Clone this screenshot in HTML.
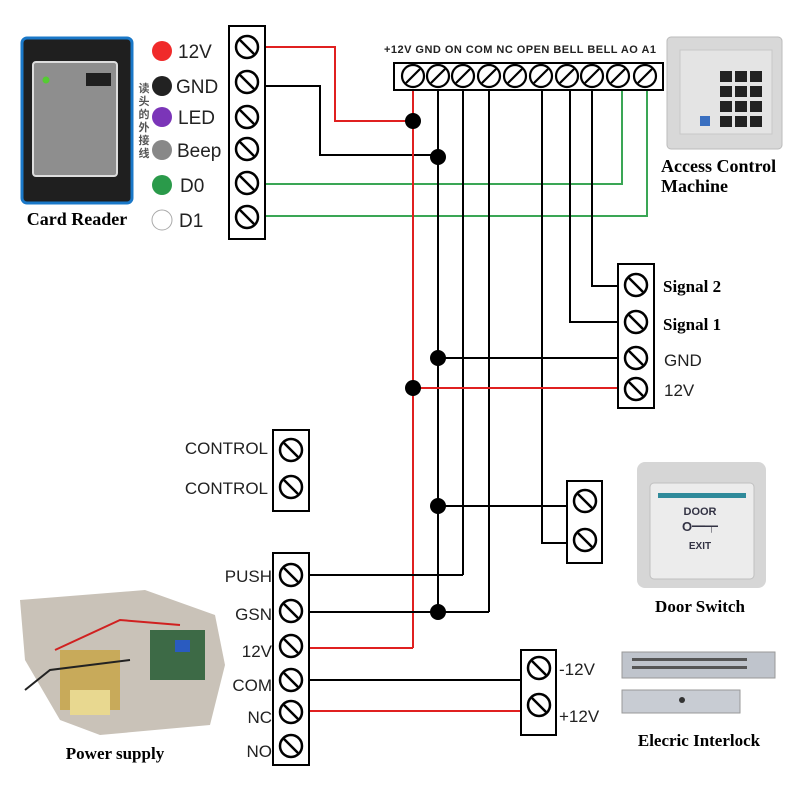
<!DOCTYPE html>
<html><head><meta charset="utf-8"><style>
html,body{margin:0;padding:0;background:#fff;}
svg{display:block;}
text{font-family:"Liberation Sans","Noto Sans CJK SC",sans-serif;}
.ser{font-family:"Liberation Serif",serif;font-weight:bold;}
</style></head><body>
<svg width="800" height="800" viewBox="0 0 800 800" xmlns="http://www.w3.org/2000/svg">
<defs>
<g id="s"><circle r="11" fill="#fff" stroke="#000" stroke-width="2.5"/><line x1="-7" y1="-7" x2="7" y2="7" stroke="#000" stroke-width="2.5"/></g>
<g id="t"><circle r="11" fill="#fff" stroke="#000" stroke-width="2.2"/><line x1="-7" y1="7" x2="7" y2="-7" stroke="#000" stroke-width="2.2"/></g>
</defs>
<rect width="800" height="800" fill="#fff"/>

<g fill="none" stroke-width="2">
<polyline points="265,47 335,47 335,121 413,121" stroke="#e02020"/>
<polyline points="265,86 320,86 320,155 438,155" stroke="#000"/>
<polyline points="265,184 622,184 622,90" stroke="#3aa655"/>
<polyline points="265,216 647,216 647,90" stroke="#3aa655"/>
<line x1="413" y1="90" x2="413" y2="648" stroke="#e02020"/>
<line x1="438" y1="90" x2="438" y2="612" stroke="#000"/>
<line x1="463" y1="90" x2="463" y2="575" stroke="#000"/>
<line x1="489" y1="90" x2="489" y2="612" stroke="#000"/>
<polyline points="542,90 542,543 567,543" stroke="#000"/>
<polyline points="570,90 570,322 618,322" stroke="#000"/>
<polyline points="592,90 592,286 618,286" stroke="#000"/>
<line x1="438" y1="358" x2="618" y2="358" stroke="#000"/>
<line x1="413" y1="388" x2="618" y2="388" stroke="#e02020"/>
<line x1="438" y1="506" x2="567" y2="506" stroke="#000"/>
<line x1="309" y1="575" x2="463" y2="575" stroke="#000"/>
<line x1="309" y1="612" x2="489" y2="612" stroke="#000"/>
<line x1="309" y1="648" x2="413" y2="648" stroke="#e02020"/>
<line x1="309" y1="680" x2="522" y2="680" stroke="#000"/>
<line x1="309" y1="711" x2="522" y2="711" stroke="#e02020"/>
</g>
<g fill="#000">
<circle cx="413" cy="121" r="8"/><circle cx="438" cy="157" r="8"/>
<circle cx="438" cy="358" r="8"/><circle cx="413" cy="388" r="8"/>
<circle cx="438" cy="506" r="8"/><circle cx="438" cy="612" r="8"/>
</g>

<rect x="229" y="26" width="36" height="213" fill="#fff" stroke="#000" stroke-width="2"/>
<use href="#s" x="247" y="47"/><use href="#s" x="247" y="82"/><use href="#s" x="247" y="117"/>
<use href="#s" x="247" y="149"/><use href="#s" x="247" y="183"/><use href="#s" x="247" y="217"/>

<rect x="394" y="63" width="269" height="27" fill="#fff" stroke="#000" stroke-width="2"/>
<g transform="translate(0,76)">
<use href="#t" x="413"/><use href="#t" x="438"/><use href="#t" x="463"/><use href="#t" x="489"/><use href="#t" x="515"/>
<use href="#t" x="541"/><use href="#t" x="567"/><use href="#t" x="592"/><use href="#t" x="618"/><use href="#t" x="645"/>
</g>
<text x="384" y="53" font-size="11" font-weight="bold" fill="#222" textLength="272">+12V GND ON COM NC OPEN BELL BELL AO A1</text>

<rect x="618" y="264" width="36" height="144" fill="#fff" stroke="#000" stroke-width="2"/>
<use href="#s" x="636" y="285"/><use href="#s" x="636" y="322"/><use href="#s" x="636" y="358"/><use href="#s" x="636" y="389"/>
<text x="663" y="292" font-size="17" class="ser">Signal 2</text>
<text x="663" y="330" font-size="17" class="ser">Signal 1</text>
<text x="664" y="366" font-size="17" fill="#222">GND</text>
<text x="664" y="396" font-size="17" fill="#222">12V</text>

<rect x="273" y="430" width="36" height="81" fill="#fff" stroke="#000" stroke-width="2"/>
<use href="#s" x="291" y="450"/><use href="#s" x="291" y="487"/>
<text x="268" y="454" font-size="17" text-anchor="end" fill="#222">CONTROL</text>
<text x="268" y="494" font-size="17" text-anchor="end" fill="#222">CONTROL</text>

<rect x="567" y="481" width="35" height="82" fill="#fff" stroke="#000" stroke-width="2"/>
<use href="#s" x="585" y="501"/><use href="#s" x="585" y="540"/>

<rect x="273" y="553" width="36" height="212" fill="#fff" stroke="#000" stroke-width="2"/>
<use href="#s" x="291" y="575"/><use href="#s" x="291" y="611"/><use href="#s" x="291" y="646"/>
<use href="#s" x="291" y="680"/><use href="#s" x="291" y="712"/><use href="#s" x="291" y="746"/>
<g font-size="17" text-anchor="end" fill="#222">
<text x="272" y="582">PUSH</text><text x="272" y="620">GSN</text><text x="272" y="657">12V</text>
<text x="272" y="691">COM</text><text x="272" y="723">NC</text><text x="272" y="757">NO</text>
</g>

<rect x="521" y="650" width="35" height="85" fill="#fff" stroke="#000" stroke-width="2"/>
<use href="#s" x="539" y="668"/><use href="#s" x="539" y="705"/>
<text x="559" y="675" font-size="17" fill="#222">-12V</text>
<text x="559" y="722" font-size="17" fill="#222">+12V</text>

<rect x="22" y="38" width="110" height="165" rx="5" fill="#1f1f1f" stroke="#1a78c8" stroke-width="3"/>
<rect x="33" y="62" width="84" height="114" rx="3" fill="#8e8e8e" stroke="#ddd" stroke-width="2"/>
<circle cx="46" cy="80" r="3.5" fill="#5c3"/>
<rect x="86" y="73" width="25" height="13" fill="#1f1f1f"/>
<text x="77" y="225" font-size="18" class="ser" text-anchor="middle">Card Reader</text>
<circle cx="162" cy="51" r="10" fill="#f02a2a"/>
<circle cx="162" cy="86" r="10" fill="#222"/>
<circle cx="162" cy="117" r="10" fill="#7b35b8"/>
<circle cx="162" cy="150" r="10" fill="#888"/>
<circle cx="162" cy="185" r="10" fill="#2a9a4a"/>
<circle cx="162" cy="220" r="10" fill="#fff" stroke="#aaa"/>
<g font-size="19" fill="#222">
<text x="178" y="58">12V</text><text x="176" y="93">GND</text><text x="178" y="124">LED</text>
<text x="177" y="157">Beep</text><text x="180" y="192">D0</text><text x="179" y="227">D1</text>
</g>
<g font-size="11" font-weight="bold" fill="#555" text-anchor="middle">
<text x="144" y="92">读</text><text x="144" y="105">头</text><text x="144" y="118">的</text>
<text x="144" y="131">外</text><text x="144" y="144">接</text><text x="144" y="157">线</text>
</g>

<rect x="667" y="37" width="115" height="112" rx="4" fill="#d8d8d8" stroke="#bbb"/>
<rect x="680" y="50" width="92" height="84" fill="#e4e4e4" stroke="#c8c8c8"/>
<g fill="#222">
<rect x="720" y="71" width="12" height="11"/><rect x="735" y="71" width="12" height="11"/><rect x="750" y="71" width="12" height="11"/>
<rect x="720" y="86" width="12" height="11"/><rect x="735" y="86" width="12" height="11"/><rect x="750" y="86" width="12" height="11"/>
<rect x="720" y="101" width="12" height="11"/><rect x="735" y="101" width="12" height="11"/><rect x="750" y="101" width="12" height="11"/>
<rect x="720" y="116" width="12" height="11"/><rect x="735" y="116" width="12" height="11"/><rect x="750" y="116" width="12" height="11"/>
</g>
<rect x="700" y="116" width="10" height="10" fill="#3a6fc0"/>
<text x="661" y="172" font-size="18" class="ser">Access Control</text>
<text x="661" y="192" font-size="18" class="ser">Machine</text>

<rect x="637" y="462" width="129" height="126" rx="8" fill="#d6d6d6"/>
<rect x="650" y="483" width="104" height="96" rx="4" fill="#ececec" stroke="#c0c0c0"/>
<rect x="658" y="493" width="88" height="5" fill="#2f8a9a"/>
<text x="700" y="515" font-size="11" font-weight="bold" fill="#334" text-anchor="middle">DOOR</text>
<text x="700" y="531" font-size="13" font-weight="bold" fill="#334" text-anchor="middle">O━┯</text>
<text x="700" y="549" font-size="10" font-weight="bold" fill="#334" text-anchor="middle">EXIT</text>
<text x="700" y="612" font-size="17" class="ser" text-anchor="middle">Door Switch</text>

<rect x="622" y="652" width="153" height="26" fill="#bfc4cc" stroke="#999"/>
<rect x="632" y="658" width="115" height="3" fill="#555"/><rect x="632" y="666" width="115" height="3" fill="#555"/>
<rect x="622" y="690" width="118" height="23" fill="#c8ccd3" stroke="#999"/>
<circle cx="682" cy="700" r="3" fill="#333"/>
<text x="699" y="746" font-size="17" class="ser" text-anchor="middle">Elecric Interlock</text>

<polygon points="20,600 145,590 215,615 225,665 210,725 100,735 60,720 25,660" fill="#c9c2b8"/>
<rect x="60" y="650" width="60" height="60" fill="#c8aa5a"/>
<rect x="70" y="690" width="40" height="25" fill="#e8d890"/>
<rect x="150" y="630" width="55" height="50" fill="#3d6a46"/>
<rect x="175" y="640" width="15" height="12" fill="#2a5bc0"/>
<polyline points="55,650 120,620 180,625" fill="none" stroke="#d02020" stroke-width="2"/>
<polyline points="25,690 50,670 130,660" fill="none" stroke="#222" stroke-width="2"/>
<text x="115" y="759" font-size="17" class="ser" text-anchor="middle">Power supply</text>
</svg>
</body></html>
